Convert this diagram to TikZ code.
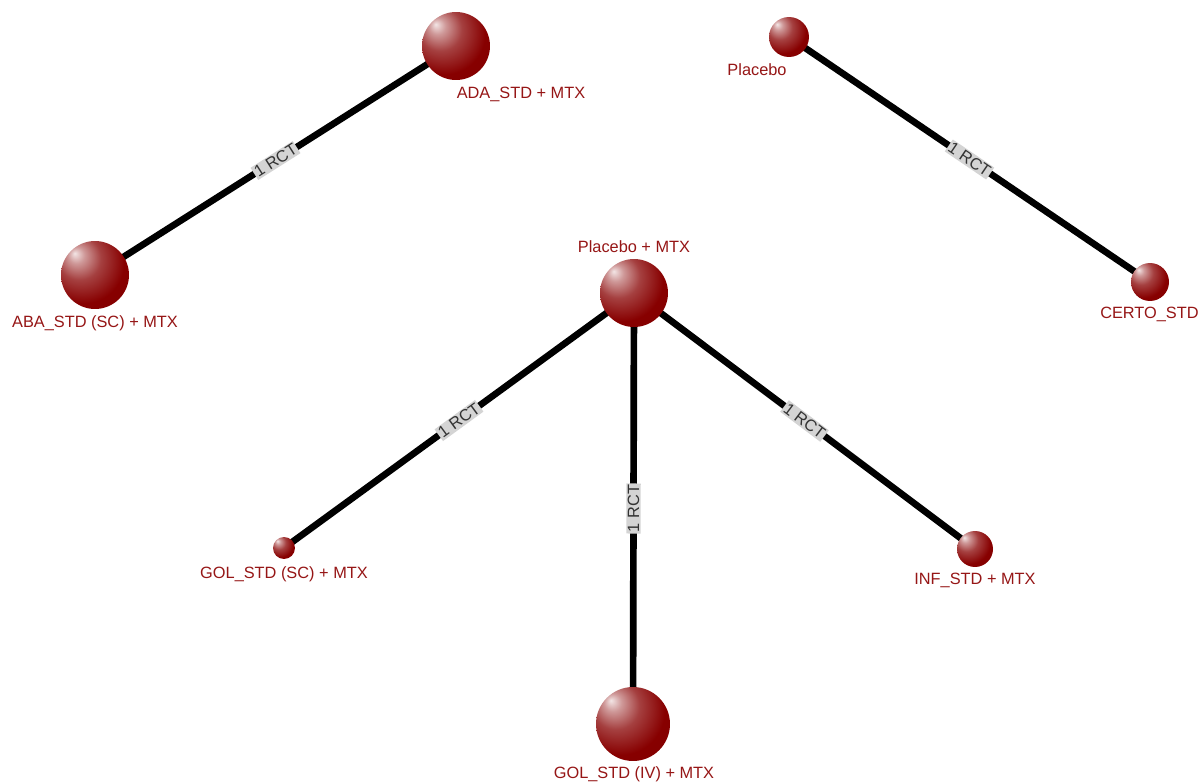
\documentclass[tikz,border=0pt]{standalone}
\usepackage{fontspec}
\setmainfont{Liberation Sans}
\usetikzlibrary{backgrounds}
\definecolor{nodered}{RGB}{135,0,0}
\definecolor{labelred}{RGB}{150,22,22}
\definecolor{rctgray}{RGB}{212,212,212}
\pgfdeclareradialshading{trtball}{\pgfpoint{-15bp}{16bp}}{%
  color(0bp)=(white!90!nodered); color(6bp)=(white!60!nodered);
  color(16bp)=(white!25!nodered); color(30bp)=(nodered);
  color(70bp)=(nodered!90!black)}

\begin{document}
\begin{tikzpicture}[x=0.02cm, y=-0.02cm,
  trt/.style={circle, shading=trtball, minimum size={#1*0.04cm}, inner sep=0pt},
  trtlabel/.style={text=labelred, inner sep=0pt, font=\fontsize{9.3}{11}\selectfont},
  link/.style={line width=3.8pt, black},
  rct/.style={sloped, fill=rctgray, inner sep=0.8pt, text=black!80,
    font=\fontsize{9.3}{10}\selectfont}]
  \useasboundingbox (0,0) rectangle (1201,784);

  % treatments (radius in px)
  \node[trt=34] (ada)    at (456,46)  {};
  \node[trt=34] (aba)    at (95,275)  {};
  \node[trt=20] (pla)    at (789,37)  {};
  \node[trt=19] (certo)  at (1150,282) {};
  \node[trt=34] (plamtx) at (634,293) {};
  \node[trt=11] (golsc)  at (284,548) {};
  \node[trt=37] (goliv)  at (633,724) {};
  \node[trt=18] (inf)    at (975,549) {};

  % treatment names
  \node[trtlabel] (ada-lbl)    at (521,94)  {ADA\_STD + MTX};
  \node[trtlabel] (aba-lbl)    at (95,323)  {ABA\_STD (SC) + MTX};
  \node[trtlabel] (pla-lbl)    at (757,70)  {Placebo};
  \node[trtlabel,anchor=east] (certo-lbl) at (1199,314) {CERTO\_STD};
  \node[trtlabel] (plamtx-lbl) at (634,247) {Placebo + MTX};
  \node[trtlabel] (golsc-lbl)  at (284,574) {GOL\_STD (SC) + MTX};
  \node[trtlabel] (goliv-lbl)  at (634,774) {GOL\_STD (IV) + MTX};
  \node[trtlabel] (inf-lbl)    at (975,580) {INF\_STD + MTX};

  % comparisons
  \begin{scope}[on background layer]
    \fill[white] (0,0) rectangle (1201,784);
    \draw[link] (aba.center) -- node[rct] {1 RCT} (ada.center);
    \draw[link] (pla.center) -- node[rct] {1 RCT} (certo.center);
    \draw[link] (golsc.center) -- node[rct] {1 RCT} (plamtx.center);
    \draw[link] (goliv.center) -- node[rct] {1 RCT} (plamtx.center);
    \draw[link] (plamtx.center) -- node[rct] {1 RCT} (inf.center);
  \end{scope}
\end{tikzpicture}
\end{document}
